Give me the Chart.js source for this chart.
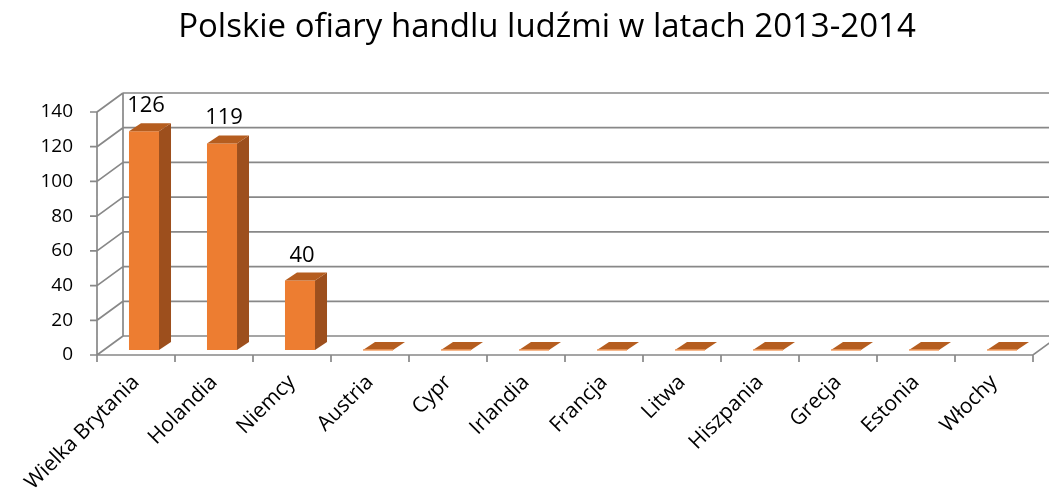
<!DOCTYPE html>
<html>
<head>
<meta charset="utf-8">
<script src="https://cdn.jsdelivr.net/npm/chart.js@4.4.1/dist/chart.umd.min.js"></script>
<style>
  html, body { margin: 0; padding: 0; background: #fff; }
</style>
</head>
<body>
<canvas id="chartOfiary" width="1049" height="503"></canvas>
<script>
// dane z wykresu
const kraje = ["Wielka Brytania", "Holandia", "Niemcy", "Austria", "Cypr", "Irlandia",
               "Francja", "Litwa", "Hiszpania", "Grecja", "Estonia", "Włochy"];
const ofiary = [126, 119, 40, 0, 0, 0, 0, 0, 0, 0, 0, 0];
const yMax = 140;
const yStep = 20;

// "3D" w stylu Excela
const WALL_DX = 26, WALL_DY = -19;   // przesunięcie tylnej ściany
const BAR_DX = 8, BAR_DY = -5;       // słupki stoją trochę w głębi
const SIDE_DX = 12, SIDE_DY = -8;    // głębokość słupka
const GRID = "#888888";

const efekt3d = {
    id: "efekt3d",
    afterLayout(chart) {
        // tytuł wyśrodkowany nad obszarem wykresu jak w Excelu
        if (chart.titleBlock) chart.titleBlock.left += 61;
    },
    beforeDatasetsDraw(chart) {
        const { ctx, chartArea: a, scales: { y } } = chart;
        const y0 = y.getPixelForValue(0);
        const yTop = y.getPixelForValue(yMax);
        ctx.save();
        ctx.strokeStyle = GRID;
        ctx.lineWidth = 1.7;
        ctx.beginPath();
        for (let v = 0; v <= yMax; v += yStep) {
            const py = y.getPixelForValue(v);
            // tylna ściana
            ctx.moveTo(a.left + WALL_DX, py + WALL_DY);
            ctx.lineTo(a.right + WALL_DX, py + WALL_DY);
            // lewa ściana
            ctx.moveTo(a.left, py);
            ctx.lineTo(a.left + WALL_DX, py + WALL_DY);
            // kreski osi Y
            ctx.moveTo(a.left - 7, py);
            ctx.lineTo(a.left, py);
        }
        ctx.moveTo(a.left + WALL_DX, y0 + WALL_DY);
        ctx.lineTo(a.left + WALL_DX, yTop + WALL_DY);
        ctx.moveTo(a.left, y0);
        ctx.lineTo(a.left, yTop);
        // podłoga
        ctx.moveTo(a.left, y0);
        ctx.lineTo(a.right, y0);
        ctx.lineTo(a.right + WALL_DX, y0 + WALL_DY);
        // kreski osi X
        const w = (a.right - a.left) / kraje.length;
        for (let i = 0; i <= kraje.length; i++) {
            ctx.moveTo(a.left + i * w, y0);
            ctx.lineTo(a.left + i * w, y0 + 7);
        }
        ctx.stroke();
        ctx.restore();

        ctx.save();
        ctx.translate(BAR_DX, BAR_DY);
    },
    afterDatasetsDraw(chart) {
        const { ctx } = chart;
        const meta = chart.getDatasetMeta(0);
        meta.data.forEach((bar, i) => {
            const p = bar.getProps(["x", "y", "base", "width"], true);
            const xl = p.x - p.width / 2, xr = p.x + p.width / 2;
            // bok
            if (p.base - p.y > 0.5) {
                ctx.fillStyle = "#9d4f1d";
                ctx.beginPath();
                ctx.moveTo(xr, p.y);
                ctx.lineTo(xr + SIDE_DX, p.y + SIDE_DY);
                ctx.lineTo(xr + SIDE_DX, p.base + SIDE_DY);
                ctx.lineTo(xr, p.base);
                ctx.closePath();
                ctx.fill();
            }
            // góra
            ctx.fillStyle = "#b55d1f";
            ctx.beginPath();
            ctx.moveTo(xl, p.y);
            ctx.lineTo(xl + SIDE_DX, p.y + SIDE_DY);
            ctx.lineTo(xr + SIDE_DX, p.y + SIDE_DY);
            ctx.lineTo(xr, p.y);
            ctx.closePath();
            ctx.fill();
            if (p.base - p.y <= 0.5) {
                ctx.strokeStyle = "#f3a066";
                ctx.lineWidth = 1.5;
                ctx.beginPath();
                ctx.moveTo(xl, p.y);
                ctx.lineTo(xr, p.y);
                ctx.stroke();
            }
            // etykieta
            if (ofiary[i] > 0) {
                ctx.fillStyle = "#000";
                ctx.font = "22px 'Open Sans'";
                ctx.textAlign = "center";
                ctx.textBaseline = "alphabetic";
                ctx.fillText(String(ofiary[i]), p.x + 2, p.y - 19);
            }
        });
        ctx.restore();
    }
};

new Chart(document.getElementById("chartOfiary"), {
    type: "bar",
    data: {
        labels: kraje,
        datasets: [{
            data: ofiary,
            backgroundColor: "#ed7d31",
            borderWidth: 0,
            categoryPercentage: 1,
            barPercentage: 0.385
        }]
    },
    options: {
        responsive: false,
        animation: false,
        devicePixelRatio: 1,
        layout: { padding: { left: 0, right: 16, top: 0, bottom: 0 } },
        plugins: {
            legend: { display: false },
            tooltip: { enabled: false },
            title: {
                display: true,
                text: "Polskie ofiary handlu ludźmi w latach 2013-2014",
                color: "#000",
                font: { family: "'Open Sans'", size: 33, weight: "normal", lineHeight: 1.2 },
                padding: { top: 8, bottom: 64.4 }
            }
        },
        scales: {
            x: {
                grid: { display: false, drawTicks: false },
                border: { display: false },
                ticks: {
                    color: "#000",
                    font: { family: "'Open Sans'", size: 21 },
                    minRotation: 45,
                    maxRotation: 45,
                    padding: 15
                },
                afterFit(scale) { scale.height = 148; }
            },
            y: {
                min: 0,
                max: yMax,
                grid: { display: false, drawTicks: false },
                border: { display: false },
                ticks: {
                    stepSize: yStep,
                    color: "#000",
                    font: { family: "'Open Sans'", size: 19 },
                    padding: 24
                },
                afterFit(scale) { scale.width = 97; }
            }
        }
    },
    plugins: [efekt3d]
});
</script>
</body>
</html>
